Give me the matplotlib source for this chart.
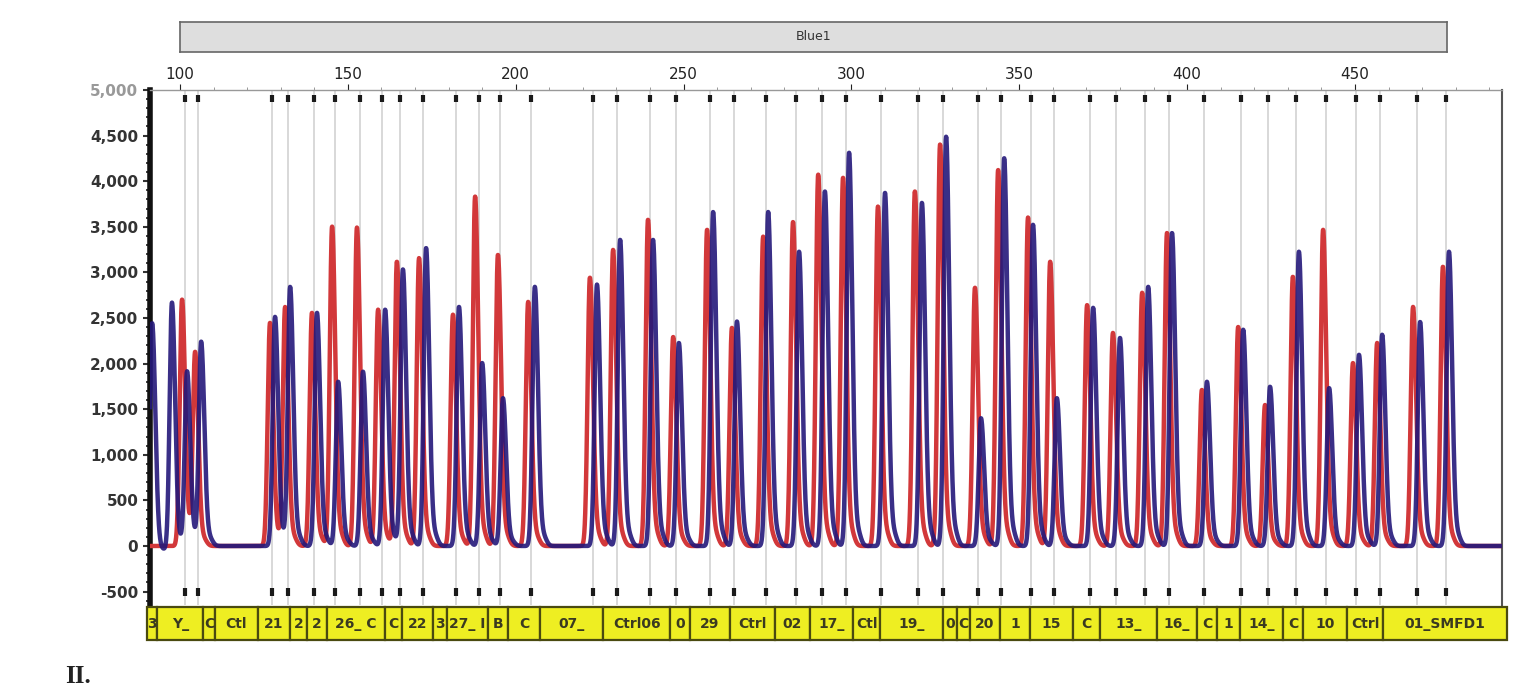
import matplotlib
matplotlib.use("Agg")
import matplotlib.pyplot as plt
import numpy as np
from matplotlib.patches import Rectangle
from matplotlib.ticker import FuncFormatter, MultipleLocator

# peak positions (bp) and heights (RFU)
RED_POS = [100.6, 104.5, 126.8, 131.3, 139.3, 145.3, 152.7, 159.0, 164.6, 171.2, 181.3, 187.9,
           194.7, 203.7, 222.1, 229.0, 239.4, 246.9, 257.0, 264.4, 273.7, 282.6, 290.1,
           297.5, 307.9, 318.9, 326.4, 336.8, 343.7, 352.6, 359.2, 370.2, 377.9, 386.6, 394.0,
           404.4, 415.2, 423.2, 431.5, 440.5, 449.4, 456.6, 467.3, 476.2]
RED_H = [2700, 2094, 2445, 2610, 2555, 3500, 3490, 2590, 3115, 3155, 2535, 3830,
         3190, 2675, 2940, 3245, 3575, 2290, 3465, 2390, 3390, 3550, 4070,
         4035, 3720, 3885, 4400, 2830, 4120, 3600, 3115, 2640, 2335, 2775, 3430,
         1710, 2400, 1545, 2950, 3465, 2005, 2225, 2620, 3060]

BLUE_POS = [91.7, 97.6, 102.1, 106.3, 128.3, 132.8, 140.8, 147.1, 154.5, 161.1, 166.4, 173.3,
            183.1, 190.0, 196.2, 205.7, 224.2, 231.1, 240.9, 248.6, 258.8, 265.9, 275.2,
            284.4, 292.1, 299.3, 310.0, 321.0, 328.2, 338.6, 345.5, 354.1, 361.2, 372.0,
            380.0, 388.4, 395.5, 405.9, 416.7, 424.7, 433.3, 442.3, 451.2, 458.1, 469.4, 478.0]
BLUE_H = [2450, 2700, 1910, 2226, 2511, 2830, 2555, 1800, 1910, 2590, 3030, 3265,
          2620, 2005, 1620, 2840, 2865, 3355, 3355, 2225, 3660, 2460, 3660,
          3225, 3885, 4310, 3870, 3760, 4485, 1400, 4250, 3520, 1620, 2610,
          2280, 2840, 3430, 1800, 2370, 1745, 3225, 1730, 2095, 2315, 2455, 3225]

# small baseline dips at the start of the run
DIP_POS = [94.4, 99.3]
DIP_H = [-110, -80]

BOX_EDGES = [90.2, 93.2, 106.9, 110.4, 123.2, 132.8, 137.8, 143.8, 161.1, 166.1, 175.4, 179.5,
             191.8, 197.7, 207.2, 226.0, 246.0, 251.9, 263.8, 277.2, 287.7, 300.5, 308.5,
             327.3, 331.5, 335.3, 344.3, 353.2, 366.0, 374.1, 391.0, 403.0, 408.9, 415.8,
             428.6, 434.5, 447.6, 458.4, 495.3]
BOX_LABELS = ["3", "Y_", "C", "Ctl", "21", "2", "2", "26_ C", "C", "22", "3", "27_ I", "B", "C",
              "07_", "Ctrl06", "0", "29", "Ctrl", "02", "17_", "Ctl", "19_", "0", "C", "20", "1",
              "15", "C", "13_", "16_", "C", "1", "14_", "C", "10", "Ctrl", "01_SMFD1"]

X_TICKS = [100, 150, 200, 250, 300, 350, 400, 450]
Y_TICKS = [-500, 0, 500, 1000, 1500, 2000, 2500, 3000, 3500, 4000, 4500, 5000]

XLIM = (91.06, 493.8)
YLIM = (-647, 5000)


def trace(x, pos, h):
    # skewed peak: steep front, slower tail, plus a faint stutter bump
    y = np.zeros_like(x)
    for p, a in zip(pos, h):
        s = np.where(x < p, 0.68, 0.95)
        y += a * np.exp(-0.5 * ((x - p) / s) ** 2)
        y += 0.035 * a * np.exp(-0.5 * ((x - p - 2.6) / 0.9) ** 2)
    return y


def main():
    fig = plt.figure(figsize=(15.38, 6.85), dpi=100)
    ax = fig.add_axes([150 / 1538, 1 - 605 / 685, 1352 / 1538, 515 / 685])

    x = np.linspace(88, 496, 9000)
    dips = np.zeros_like(x)
    for p, a in zip(DIP_POS, DIP_H):
        dips += a * np.exp(-0.5 * ((x - p) / 1.2) ** 2)
    red = trace(x, RED_POS, RED_H)
    blue = trace(x, BLUE_POS, BLUE_H) + dips

    bins = (np.array(RED_POS) + np.array(BLUE_POS[2:])) / 2
    ax.vlines(bins, YLIM[0], YLIM[1], colors="#d6d6d6", lw=1.3, zorder=1)
    ax.vlines(bins, 4870, 4950, colors="#1a1a1a", lw=3, zorder=2)
    ax.vlines(bins, -550, -460, colors="#1a1a1a", lw=3, zorder=2)

    ax.plot(x, red, color="#d2383a", lw=3.2, zorder=3)
    ax.plot(x, blue, color="#24187a", lw=3.2, alpha=0.9, zorder=4)

    ax.set_xlim(*XLIM)
    ax.set_ylim(*YLIM)
    ax.set_xticks(X_TICKS)
    ax.xaxis.set_minor_locator(MultipleLocator(10))
    ax.xaxis.tick_top()
    ax.tick_params(axis="x", which="major", length=4, labelsize=11, colors="#222", pad=2)
    ax.tick_params(axis="x", which="minor", length=2, color="#888")
    ax.set_yticks(Y_TICKS)
    ax.yaxis.set_minor_locator(MultipleLocator(100))
    ax.yaxis.set_major_formatter(FuncFormatter(lambda v, p: f"{int(v):,}"))
    ax.tick_params(axis="y", which="major", length=5, width=1.5, labelsize=11, colors="#333")
    ax.tick_params(axis="y", which="minor", length=3, width=1.2, color="#222")
    for lab in ax.get_yticklabels():
        lab.set_fontweight("bold")
    ax.get_yticklabels()[-1].set_color("#999")

    ax.spines["left"].set_linewidth(4)
    ax.spines["left"].set_color("#111")
    ax.spines["top"].set_color("#999")
    ax.spines["top"].set_linewidth(1)
    ax.spines["right"].set_color("#555")
    ax.spines["right"].set_linewidth(1.5)
    ax.spines["bottom"].set_visible(False)

    # dye bar at the top
    bar = fig.add_axes([180 / 1538, 1 - 52 / 685, 1267 / 1538, 30 / 685])
    bar.set_facecolor("#dedede")
    bar.set_xticks([])
    bar.set_yticks([])
    for s in bar.spines.values():
        s.set_color("#666")
        s.set_linewidth(1.2)
    bar.text(0.5, 0.5, "Blue1", ha="center", va="center", fontsize=9, color="#333",
             transform=bar.transAxes)

    # allele label boxes under the plot
    bx = fig.add_axes([150 / 1538, 1 - 640 / 685, 1352 / 1538, 33 / 685])
    bx.set_xlim(*XLIM)
    bx.set_ylim(0, 1)
    bx.axis("off")
    for l, r, lab in zip(BOX_EDGES[:-1], BOX_EDGES[1:], BOX_LABELS):
        rect = Rectangle((l, 0), r - l, 1, facecolor="#eeee22", edgecolor="#4a4a10",
                         lw=1.6, clip_on=False)
        bx.add_patch(rect)
        t = bx.text((l + r) / 2, 0.48, lab, ha="center", va="center", fontsize=10,
                    fontweight="bold", color="#3a3a20")
        t.set_clip_path(rect)

    fig.text(65 / 1538, 1 - 683 / 685, "II.", fontsize=18, fontweight="bold",
             family="Liberation Serif", ha="left", va="baseline", color="#222")

    fig.savefig("out.png", dpi=100, facecolor="white")
    plt.close(fig)


if __name__ == "__main__":
    main()
